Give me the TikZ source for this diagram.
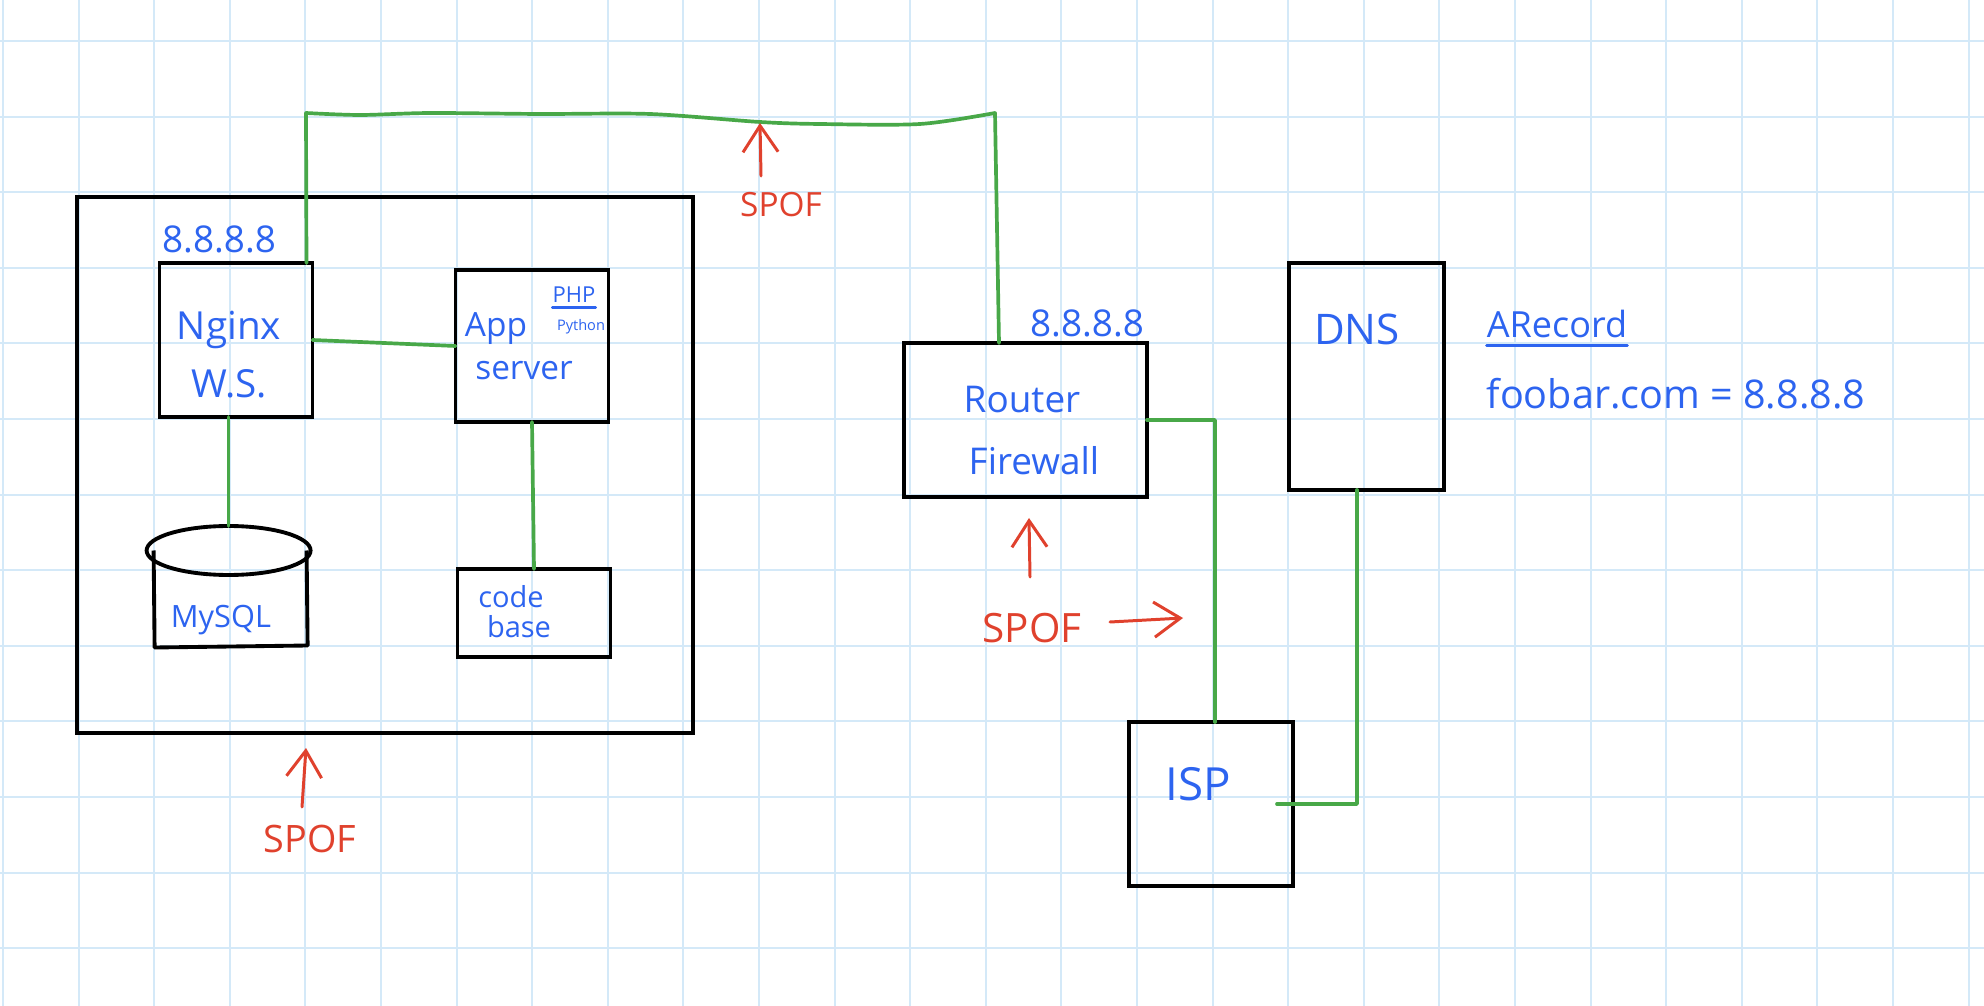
\documentclass[tikz,border=0pt]{standalone}
\usepackage{fontspec}
\setmainfont{Open Sans}
\usetikzlibrary{arrows.meta,shapes.geometric,calc}
\definecolor{handblue}{HTML}{2D64F0}
\definecolor{wiregreen}{HTML}{48A848}
\definecolor{spofred}{HTML}{E0412D}
\definecolor{gridblue}{HTML}{D4E9F8}
\begin{document}
\begin{tikzpicture}[x=0.02cm,y=-0.02cm,
  box/.style={draw=black, line width=2.2pt, inner sep=0pt, outer sep=0pt},
  boxline/.style={draw=black, line width=2.2pt, line join=round},
  wire/.style={draw=wiregreen, line width=2.1pt, line join=round, line cap=round},
  gridline/.style={draw=gridblue, line width=1.2pt},
  hand/.style={text=handblue, anchor=base, inner sep=0pt},
  redtext/.style={text=spofred, anchor=base, inner sep=0pt},
  uline/.style={draw=handblue, line width=1.5pt, line cap=round},
  spofarrow/.style={draw=spofred, line width=1.7pt, line cap=round,
    -{Straight Barb[length=15pt,width=20pt,line width=1.7pt]}}
]
\useasboundingbox (0,0) rectangle (1984,1006);
\fill[white] (0,0) rectangle (1984,1006);
% grid
\foreach \i in {0,...,26} {\draw[gridline] ({3+75.6*\i},0) -- ({3+75.6*\i},1006);}
\foreach \j in {0,...,12} {\draw[gridline] (0,{41+75.6*\j}) -- (1984,{41+75.6*\j});}

% host box
\node[box, minimum width=12.32cm, minimum height=10.72cm] (host) at (385,465) {};
% boxes
\node[box, minimum width=3.06cm, minimum height=3.08cm] (nginx) at (236,340) {};
\node[box, minimum width=3.06cm, minimum height=3.04cm] (app) at (532,346) {};
\node[box, minimum width=3.06cm, minimum height=1.76cm] (code) at (534,613) {};
\node[box, minimum width=4.86cm, minimum height=3.08cm] (router) at (1025.5,420) {};
\node[box, minimum width=3.10cm, minimum height=4.54cm] (dns) at (1366.5,376.5) {};
\node[box, minimum width=3.28cm, minimum height=3.28cm] (isp) at (1211,804) {};
% database cylinder
\node[ellipse, draw=black, line width=2.2pt, inner sep=0pt, outer sep=0pt,
      minimum width=3.28cm, minimum height=0.98cm] (dbcap) at (228.6,550.5) {};
\draw[boxline] ([xshift=0.14cm]dbcap.west) -- ++(1,97) -- ++(153,-2) -- ([xshift=-0.08cm]dbcap.east);

% texts
\node[hand, font=\fontsize{21}{25}\selectfont] (ipweb) at (219,253) {8.8.8.8};
\node[hand, font=\fontsize{22}{26}\selectfont] (nginxtxt) at (229,340) {Nginx};
\node[hand, font=\fontsize{22}{26}\selectfont] (wstxt) at (229,398) {W.S.};
\node[hand, font=\fontsize{19}{23}\selectfont] (apptxt) at (496,337) {App};
\node[hand, font=\fontsize{19}{23}\selectfont] (servertxt) at (524,380) {server};
\node[hand, font=\fontsize{12.5}{15}\selectfont] (php) at (574,303) {PHP};
\node[hand, font=\fontsize{8.3}{10}\selectfont] (python) at (581,331) {Python};
\node[hand, font=\fontsize{16.5}{20}\selectfont] (codetxt) at (511,607) {code};
\node[hand, font=\fontsize{16.5}{20}\selectfont] (basetxt) at (519,637) {base};
\node[hand, font=\fontsize{17.5}{21}\selectfont] (mysqltxt) at (221,627) {MySQL};
\node[hand, font=\fontsize{21}{25}\selectfont] (routertxt) at (1022,413) {Router};
\node[hand, font=\fontsize{21}{25}\selectfont] (firewalltxt) at (1034,475) {Firewall};
\node[hand, font=\fontsize{21}{25}\selectfont] (iprouter) at (1087,337) {8.8.8.8};
\node[hand, font=\fontsize{24}{28}\selectfont] (dnstxt) at (1357,345) {DNS};
\node[hand, font=\fontsize{26}{30}\selectfont] (isptxt) at (1198,800) {ISP};
\node[hand, font=\fontsize{20.5}{24}\selectfont] (arec) at (1557,338) {ARecord};
\node[hand, font=\fontsize{22.5}{27}\selectfont] (foobar) at (1676,409) {foobar.com = 8.8.8.8};
\draw[uline] ([yshift=-0.08cm]php.south west) -- ([yshift=-0.08cm]php.south east);
\draw[uline] ([yshift=-0.14cm]arec.south west) -- ([yshift=-0.14cm]arec.south east);

% green connectors
\coordinate (tl) at (306,113);
\coordinate (tr) at (995,113);
\draw[wire] ([xshift=-0.12cm]nginx.north east) -- (tl) -- plot[smooth, tension=0.5] coordinates
  {(tl) (360,115) (430,113) (540,114) (650,114) (760,122) (820,124) (920,124) (tr)}
  -- ([xshift=0.08cm]tr |- router.north);
\draw[wire] (nginx.east) -- (app.west);
\draw[wire] (dbcap.north |- nginx.south) -- (dbcap.north);
\draw[wire] (app.south) -- (code.north);
\draw[wire] (router.east) -- ([xshift=0.08cm]isp.north |- router.east) -- ([xshift=0.08cm]isp.north);
\draw[wire] ([xshift=-0.19cm]dns.south) |- ([xshift=-0.32cm]isp.east);

% SPOF labels and arrows
\node[redtext, font=\fontsize{19}{23}\selectfont] (spoftop) at (781,217) {SPOF};
\node[redtext, font=\fontsize{23}{27}\selectfont] (spofrouter) at (1032,642) {SPOF};
\node[redtext, font=\fontsize{21.5}{26}\selectfont] (spofhost) at (310,852) {SPOF};
\coordinate (s1tail) at (761,176);
\coordinate (s1tip) at (760,123);
\coordinate (s2tail) at (1030,577);
\coordinate (s2tip) at (1029,518);
\coordinate (s3tail) at (302,807);
\coordinate (s3tip) at (306,748);
\coordinate (s4tail) at (1110,622);
\coordinate (s4tip) at (1183,618);
\draw[spofarrow] (s1tail) -- (s1tip);
\draw[spofarrow] (s2tail) -- (s2tip);
\draw[spofarrow] (s3tail) -- (s3tip);
\draw[spofarrow] (s4tail) -- (s4tip);
\end{tikzpicture}
\end{document}
